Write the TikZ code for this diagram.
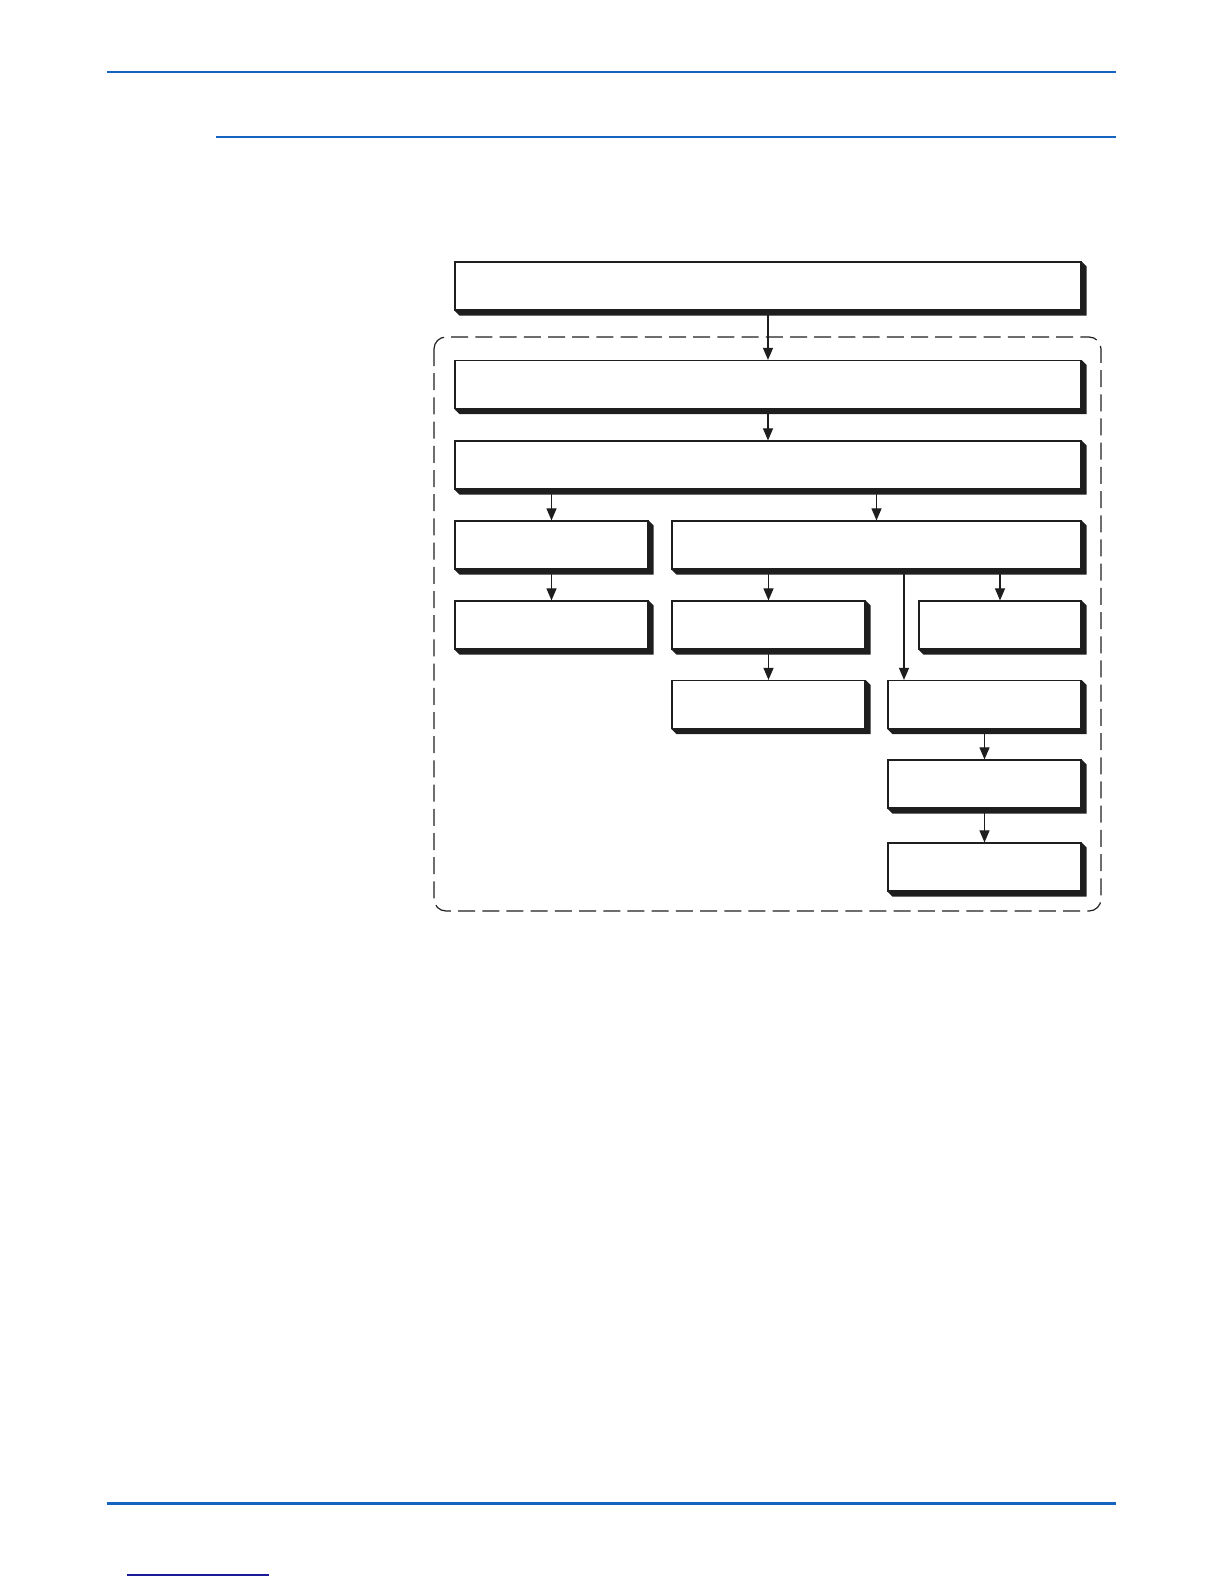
\documentclass[tikz,border=0pt]{standalone}
\usepackage{xcolor}
\usepackage{tikz}
\usetikzlibrary{positioning,calc,arrows.meta}

\definecolor{rulerblue}{HTML}{1565C0}
\definecolor{rulernavy}{HTML}{1A1A99}
\definecolor{inkdark}{HTML}{1E1E1E}

\tikzset{
    stepbox/.style={rectangle, draw=inkdark, line width=0.6pt, fill=white, minimum height=24pt, inner sep=0pt},
    wide/.style={stepbox, minimum width=313pt},
    half/.style={stepbox, minimum width=96.5pt},
    narrow/.style={stepbox, minimum width=81pt},
    arr/.style={draw=inkdark, line width=0.55pt, -{Triangle[width=5pt,length=6pt]}},
    shadowfill/.style={fill=inkdark}
}

\begin{document}
\begin{tikzpicture}[x=0.5pt, y=-0.5pt]
    \useasboundingbox (0,0) rectangle (1224,1584);

    % page rules
    \draw[rulerblue, line width=1pt] (107,72) -- (1116,72);
    \draw[rulerblue, line width=1pt] (216,137.5) -- (1116,137.5);
    \draw[rulerblue, line width=1.15pt] (107,1503.5) -- (1116,1503.5);
    \draw[rulernavy, line width=0.7pt] (127,1575) -- (269,1575);

    % dashed frame
    \draw[inkdark, line width=0.6pt, dash pattern=on 8.5pt off 3.6pt, rounded corners=6pt] (434,337) rectangle (1101,911);

    % boxes
    \node(top) [wide] at (768,286) {};
    \node(prep) [wide] at (768,384.5) {};
    \node(split) [wide] at (768,465) {};
    \node(leftA) [half] at (551.5,545) {};
    \node(rightA) [stepbox, minimum width=204.5pt] at (876.5,545) {};
    \node(leftB) [half] at (551.5,625) {};
    \node(midB) [half] at (768.5,625) {};
    \node(farB) [narrow] at (1000,625) {};
    \node(midC) [half] at (768.5,704.5) {};
    \node(farC) [half] at (984.5,704.5) {};
    \node(farD) [half] at (984.5,784) {};
    \node(farE) [half] at (984.5,867) {};

    % shadows
    \foreach \n in {top,prep,split,leftA,rightA,leftB,midB,farB,midC,farC,farD,farE}{
        \fill[shadowfill] (\n.north east) -- ++(5,5) -- ($(\n.south east)+(5,5)$) -- ($(\n.south west)+(5,5)$) -- (\n.south west) -- (\n.south east) -- cycle;
    }

    % connectors
    \draw[arr] (top.south) -- (prep.north);
    \draw[arr] (prep.south) -- (split.north);
    \draw[arr] (split.south -| leftA.north) -- (leftA.north);
    \draw[arr] (split.south -| rightA.north) -- (rightA.north);
    \draw[arr] (leftA.south) -- (leftB.north);
    \draw[arr] (rightA.south -| midB.north) -- (midB.north);
    \draw[arr] (rightA.south -| farB.north) -- (farB.north);
    \coordinate (tap) at (904,569);
    \draw[arr] (tap) -- (tap |- farC.north);
    \draw[arr] (midB.south) -- (midC.north);
    \draw[arr] (farC.south) -- (farD.north);
    \draw[arr] (farD.south) -- (farE.north);
\end{tikzpicture}
\end{document}
